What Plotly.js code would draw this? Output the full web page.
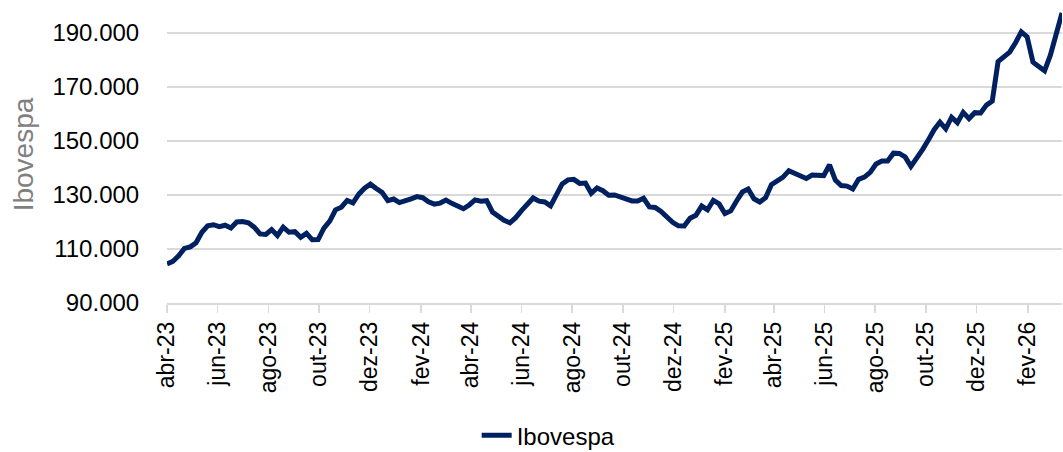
<!DOCTYPE html>
<html>
<head>
<meta charset="utf-8">
<script src="https://cdn.plot.ly/plotly-3.0.1.min.js"></script>
<style>
  html, body { margin: 0; padding: 0; background: #ffffff; }
  #chart { width: 1063px; height: 452px; }
</style>
</head>
<body>
<div id="chart"></div>
<script>
// Weekly closing dates
const dates = [
  "2023-04-07","2023-04-14","2023-04-21","2023-04-28",
  "2023-05-05","2023-05-12","2023-05-19","2023-05-26",
  "2023-06-02","2023-06-09","2023-06-16","2023-06-23","2023-06-30",
  "2023-07-07","2023-07-14","2023-07-21","2023-07-28",
  "2023-08-04","2023-08-11","2023-08-18","2023-08-25",
  "2023-09-01","2023-09-08","2023-09-15","2023-09-22","2023-09-29",
  "2023-10-06","2023-10-13","2023-10-20","2023-10-27",
  "2023-11-03","2023-11-10","2023-11-17","2023-11-24",
  "2023-12-01","2023-12-08","2023-12-15","2023-12-22","2023-12-29",
  "2024-01-05","2024-01-12","2024-01-19","2024-01-26",
  "2024-02-02","2024-02-09","2024-02-16","2024-02-23",
  "2024-03-01","2024-03-08","2024-03-15","2024-03-22","2024-03-29",
  "2024-04-05","2024-04-12","2024-04-19","2024-04-26",
  "2024-05-03","2024-05-10","2024-05-17","2024-05-24","2024-05-31",
  "2024-06-07","2024-06-14","2024-06-21","2024-06-28",
  "2024-07-05","2024-07-12","2024-07-19","2024-07-26",
  "2024-08-02","2024-08-09","2024-08-16","2024-08-23","2024-08-30",
  "2024-09-06","2024-09-13","2024-09-20","2024-09-27",
  "2024-10-04","2024-10-11","2024-10-18","2024-10-25",
  "2024-11-01","2024-11-08","2024-11-15","2024-11-22","2024-11-29",
  "2024-12-06","2024-12-13","2024-12-20","2024-12-27",
  "2025-01-03","2025-01-10","2025-01-17","2025-01-24","2025-01-31",
  "2025-02-07","2025-02-14","2025-02-21","2025-02-28",
  "2025-03-07","2025-03-14","2025-03-21","2025-03-28",
  "2025-04-04","2025-04-11","2025-04-18","2025-04-25",
  "2025-05-02","2025-05-09","2025-05-16","2025-05-23","2025-05-30",
  "2025-06-06","2025-06-13","2025-06-20","2025-06-27",
  "2025-07-04","2025-07-11","2025-07-18","2025-07-25",
  "2025-08-01","2025-08-08","2025-08-15","2025-08-22","2025-08-29",
  "2025-09-05","2025-09-12","2025-09-19","2025-09-26",
  "2025-10-03","2025-10-10","2025-10-17","2025-10-24","2025-10-31",
  "2025-11-07","2025-11-14","2025-11-21","2025-11-28",
  "2025-12-05","2025-12-12","2025-12-19","2025-12-26",
  "2026-01-02","2026-01-09","2026-01-16","2026-01-23","2026-01-30",
  "2026-02-06","2026-02-13","2026-02-20","2026-02-27",
  "2026-03-06","2026-03-13","2026-03-20"
];

// Ibovespa level (points)
const ibovespa = [
  104500,105400,107500,110200,
  110800,112300,116200,118600,
  119000,118300,118800,117800,120000,
  120200,119700,118100,115600,
  115400,117200,115000,118100,
  116200,116400,114300,115800,113400,
  113500,117700,120300,124500,
  125500,128000,127100,130300,
  132500,134000,132400,131000,127900,
  128500,127200,127700,128600,
  129400,129000,127500,126600,
  127000,128100,126900,126000,124900,
  126300,128200,127700,127900,
  123700,121900,120600,119700,121600,
  124200,126900,128900,127700,
  127400,126000,130300,134100,
  135600,135800,134300,134400,130600,
  132600,131600,129900,130000,
  129200,128200,127800,127800,
  128800,125600,125400,123900,121900,
  119900,118600,118500,121400,
  122500,125900,124500,128000,126700,
  123100,124100,127800,131100,
  132200,128600,127400,129000,
  133800,135100,136600,139000,
  138100,136800,136100,137400,137400,
  137200,141200,135500,133500,
  133300,132200,135800,136600,
  138400,141500,142600,142600,145500,
  145400,144100,140600,143600,
  146800,150400,154200,157000,154500,
  158800,156800,160600,158300,
  160500,160400,163300,164800,
  179400,181400,182900,186400,190400,
  188600,179200,177600,176000,
  181800,189500,197400
];

// Axis tick positions and labels
const tickDates = [
  "2023-04-07","2023-06-07","2023-08-07","2023-10-07","2023-12-07",
  "2024-02-07","2024-04-07","2024-06-07","2024-08-07","2024-10-07","2024-12-07",
  "2025-02-07","2025-04-07","2025-06-07","2025-08-07","2025-10-07","2025-12-07",
  "2026-02-07"
];
const tickLabels = [
  "abr-23","jun-23","ago-23","out-23","dez-23",
  "fev-24","abr-24","jun-24","ago-24","out-24","dez-24",
  "fev-25","abr-25","jun-25","ago-25","out-25","dez-25",
  "fev-26"
];
const yTickVals = [90000,110000,130000,150000,170000,190000];
const yTickText = ["90.000","110.000","130.000","150.000","170.000","190.000"];

const FONT = "Liberation Sans, Arial, sans-serif";

const trace = {
  x: dates,
  y: ibovespa,
  type: "scatter",
  mode: "lines",
  name: "Ibovespa",
  line: { color: "#002060", width: 5, shape: "linear" }
};

const layout = {
  width: 1063,
  height: 452,
  margin: { l: 167, r: 1, t: 6, b: 149, autoexpand: false },
  paper_bgcolor: "#ffffff",
  plot_bgcolor: "#ffffff",
  font: { family: FONT, color: "#000000" },
  showlegend: true,
  legend: {
    orientation: "h",
    xref: "paper",
    x: 0.346, xanchor: "left",
    yref: "container",
    y: 0.036, yanchor: "middle",
    font: { family: FONT, size: 24, color: "#000000" },
    bgcolor: "rgba(0,0,0,0)"
  },
  xaxis: {
    type: "date",
    range: ["2023-04-07", "2026-03-20"],
    tickvals: tickDates,
    ticktext: tickLabels,
    tickangle: -90,
    tickfont: { family: FONT, size: 23, color: "#000000" },
    ticks: "outside",
    ticklen: 8,
    tickwidth: 1.5,
    tickcolor: "#d9d9d9",
    showline: true,
    linecolor: "#d9d9d9",
    linewidth: 1.5,
    showgrid: false,
    zeroline: false,
    automargin: false,
    fixedrange: true
  },
  yaxis: {
    range: [90000, 200000],
    tickvals: yTickVals,
    ticktext: yTickText,
    tickfont: { family: FONT, size: 24, color: "#000000" },
    ticks: "outside",
    ticklen: 22,
    tickcolor: "rgba(0,0,0,0)",
    showline: false,
    showgrid: true,
    gridcolor: "#d9d9d9",
    gridwidth: 1.5,
    zeroline: false,
    automargin: false,
    title: {
      text: "Ibovespa",
      font: { family: FONT, size: 28, color: "#808080" },
      standoff: 10
    },
    fixedrange: true
  }
};

Plotly.newPlot("chart", [trace], layout, { displayModeBar: false, staticPlot: true });
</script>
</body>
</html>
